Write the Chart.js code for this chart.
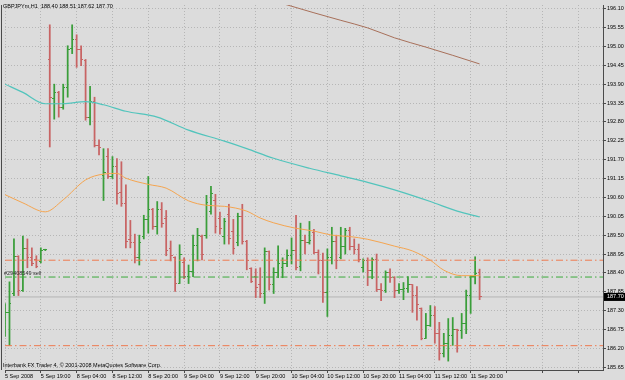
<!DOCTYPE html>
<html>
<head>
<meta charset="utf-8">
<script src="https://cdn.jsdelivr.net/npm/chart.js@4.4.1/dist/chart.umd.min.js"></script>
<style>
  html, body { margin: 0; padding: 0; background: #dcdcdc; }
  canvas { display: block; }
</style>
</head>
<body>
<canvas id="chart" width="625" height="380"></canvas>
<script>
// GBPJPYm H1, 5-11 Sep 2008
const symbol = 'GBPJPYm,H1';
const copyright = 'Interbank FX Trader 4, \u00a9 2001-2008 MetaQuotes Software Corp.';
const orderLabel = '#29408549 sell';

const timeLabels = ['5 Sep 2008', '5 Sep 19:00', '8 Sep 04:00', '8 Sep 12:00', '8 Sep 20:00',
  '9 Sep 04:00', '9 Sep 12:00', '9 Sep 20:00', '10 Sep 04:00', '10 Sep 12:00',
  '10 Sep 20:00', '11 Sep 04:00', '11 Sep 12:00', '11 Sep 20:00'];

const priceTicks = [185.65, 186.20, 186.75, 187.30, 187.85, 188.40, 188.95, 189.50, 190.05, 190.60,
  191.15, 191.70, 192.25, 192.80, 193.35, 193.90, 194.45, 195.00, 195.55, 196.10];

const opens = [186.70, 187.25, 187.80, 188.88, 187.90, 189.12, 188.85, 188.80, 188.72, 189.07,
  194.63, 193.47, 193.66, 193.23, 193.80, 194.95, 195.20, 194.90, 194.58, 192.94,
  193.39, 192.12, 191.25, 191.80, 191.21, 191.50, 190.75, 190.43, 189.36, 189.30,
  188.85, 189.45, 189.95, 190.25, 189.75, 190.25, 190.00, 189.10, 188.85, 188.10,
  188.70, 188.30, 188.45, 189.20, 189.45, 189.50, 190.20, 190.50, 190.00, 189.45,
  190.10, 189.60, 189.30, 190.05, 189.33, 188.53, 188.30, 188.05, 187.79, 189.02,
  188.05, 188.41, 188.55, 188.66, 188.90, 189.05, 188.60, 189.35, 189.30, 189.58,
  188.99, 188.77, 187.83, 188.85, 189.31, 188.85, 189.18, 189.65, 189.18, 189.09,
  188.55, 188.75, 188.48, 188.78, 187.93, 187.88, 188.40, 188.27, 187.88, 187.92,
  187.94, 188.05, 187.74, 187.36, 186.50, 186.86, 187.16, 186.63, 186.05, 186.34,
  186.58, 186.75, 186.72, 186.92, 187.74, 188.29, 188.40];
const highs = [187.51, 188.14, 189.39, 188.90, 189.47, 189.39, 189.13, 188.90, 189.13, 189.09,
  195.63, 193.90, 193.69, 193.90, 195.02, 195.63, 195.34, 195.02, 194.62, 193.84,
  193.52, 192.28, 192.02, 192.02, 191.79, 191.73, 191.64, 190.97, 189.93, 189.53,
  189.50, 190.08, 191.21, 190.28, 190.48, 190.45, 190.22, 189.33, 188.87, 189.22,
  188.84, 188.63, 189.50, 189.70, 189.50, 190.66, 190.92, 190.69, 190.17, 189.99,
  190.40, 189.96, 190.14, 190.40, 189.35, 188.55, 188.52, 188.55, 189.13, 189.04,
  188.55, 189.19, 188.84, 189.07, 189.42, 190.08, 189.85, 189.50, 189.90, 189.67,
  189.07, 188.98, 189.10, 189.73, 189.50, 189.73, 189.70, 189.73, 189.39, 189.24,
  188.81, 188.84, 188.84, 188.95, 188.09, 188.46, 188.52, 188.29, 188.09, 188.12,
  188.29, 188.06, 188.00, 187.38, 187.22, 187.45, 187.42, 186.96, 186.64, 187.07,
  187.10, 186.76, 187.22, 187.90, 188.32, 188.87, 188.51];
const lows = [186.55, 186.29, 187.74, 187.74, 187.86, 188.55, 188.61, 188.55, 188.69, 189.05,
  192.07, 192.88, 192.94, 193.17, 193.52, 194.79, 194.39, 194.44, 192.85, 192.71,
  192.07, 191.84, 190.51, 191.15, 191.15, 190.40, 190.34, 189.13, 189.13, 188.69,
  188.63, 189.39, 189.56, 189.67, 189.53, 189.73, 188.90, 188.75, 187.86, 188.09,
  188.23, 188.09, 188.29, 188.75, 188.78, 189.41, 190.11, 189.56, 189.53, 189.24,
  189.24, 188.95, 189.19, 189.24, 188.49, 188.12, 187.68, 187.68, 187.51, 187.90,
  187.80, 188.26, 188.26, 188.58, 188.66, 188.49, 188.46, 188.95, 189.24, 188.95,
  188.37, 187.54, 187.13, 188.66, 188.52, 188.81, 188.95, 189.07, 188.95, 188.72,
  188.43, 188.03, 188.23, 187.86, 187.59, 187.83, 188.12, 187.68, 187.80, 187.62,
  187.83, 187.25, 187.02, 186.45, 186.49, 186.84, 186.35, 185.86, 185.95, 185.83,
  186.29, 186.09, 186.49, 186.63, 187.22, 188.08, 187.62];
const closes = [187.25, 187.50, 188.88, 187.90, 189.12, 188.85, 188.66, 188.58, 189.05, 189.07,
  193.50, 193.66, 193.23, 193.80, 194.92, 195.20, 194.90, 194.63, 192.94, 193.39,
  192.12, 192.05, 191.32, 191.21, 191.50, 190.70, 190.43, 189.33, 189.30, 188.85,
  189.30, 189.95, 190.25, 189.75, 190.25, 189.85, 189.05, 188.90, 188.10, 188.95,
  188.30, 188.45, 189.20, 189.50, 188.95, 190.45, 190.70, 189.75, 189.70, 189.90,
  189.40, 189.10, 190.05, 189.33, 188.75, 188.15, 187.98, 187.79, 189.02, 188.05,
  188.41, 188.66, 188.66, 188.92, 189.05, 188.55, 189.35, 189.30, 189.35, 188.99,
  188.77, 187.83, 188.85, 189.31, 188.77, 189.18, 189.65, 189.18, 189.09, 188.78,
  188.75, 188.48, 188.80, 187.93, 187.88, 188.40, 188.27, 187.88, 187.93, 187.94,
  188.06, 187.74, 187.49, 186.50, 186.86, 187.16, 186.63, 186.05, 186.35, 186.58,
  186.75, 186.72, 186.92, 187.74, 188.29, 188.38, 187.70];

// moving averages: [bar, price]
const maBrown = [[60, 196.32], [63, 196.21], [69, 195.98], [75, 195.76], [81, 195.54],
  [87, 195.25], [94, 194.98], [100, 194.74], [106, 194.49]];
const maTeal = [[0, 193.90], [4, 193.66], [9, 193.33], [13, 193.33], [18, 193.39], [22, 193.30],
  [27, 193.11], [34, 192.94], [41, 192.56], [49, 192.24], [54, 192.02], [60, 191.74],
  [68, 191.45], [75, 191.23], [81, 191.04], [87, 190.82], [95, 190.48], [101, 190.20], [106, 190.03]];
const maOrange = [[0, 190.68], [4, 190.44], [9, 190.18], [13, 190.53], [18, 191.11], [22, 191.28],
  [25, 191.30], [27, 191.16], [32, 190.98], [36, 190.87], [41, 190.50], [45, 190.37], [49, 190.34],
  [54, 190.20], [57, 190.00], [60, 189.86], [65, 189.70], [69, 189.62], [73, 189.50], [77, 189.46],
  [81, 189.38], [87, 189.18], [91, 189.04], [95, 188.77], [98, 188.48], [102, 188.32], [106, 188.32]];

const upperLevel = 188.77;
const sellLevel = 188.28;
const lowerLevel = 186.28;

const xMax = 133.56;
const yMin = 185.571, yMax = 196.207;
const FONT = '"Liberation Sans", Arial, sans-serif';
const upColor = '#3a9e3a', downColor = '#c86464';
const gridColor = '#b6b6b6', axisColor = '#4a4a4a';

const n = closes.length;
const last = n - 1;
const isUp = closes.map((c, i) => c >= opens[i]);

function tickImage(color, side) {
  const c = document.createElement('canvas');
  c.width = 4; c.height = 1;
  const g = c.getContext('2d');
  g.fillStyle = color;
  if (side === 'open') g.fillRect(0, 0, 2, 1); else g.fillRect(2, 0, 2, 1);
  return c;
}
const openUp = tickImage(upColor, 'open'), openDown = tickImage(downColor, 'open');
const closeUp = tickImage(upColor, 'close'), closeDown = tickImage(downColor, 'close');

function level(v, color, dash) {
  return {
    type: 'line', data: [{x: 0, y: v}, {x: xMax, y: v}],
    borderColor: color, borderWidth: 1, borderDash: dash, pointRadius: 0, order: 0
  };
}
function ma(points, color, width) {
  return {
    type: 'line', data: points.map(p => ({x: p[0], y: p[1]})),
    borderColor: color, borderWidth: width, pointRadius: 0, cubicInterpolationMode: 'monotone', order: 0
  };
}

const overlay = {
  id: 'overlay',
  beforeDraw(chart) {
    const {ctx} = chart;
    ctx.save();
    ctx.fillStyle = '#dcdcdc';
    ctx.fillRect(0, 0, chart.width, chart.height);
    ctx.restore();
  },
  afterDraw(chart) {
    const {ctx, chartArea: a, scales: {y}} = chart;
    ctx.save();
    // left frame
    ctx.strokeStyle = axisColor;
    ctx.lineWidth = 1;
    ctx.beginPath();
    ctx.moveTo(1.5, a.top); ctx.lineTo(1.5, a.bottom);
    ctx.stroke();

    ctx.font = '5.5px ' + FONT;
    ctx.textBaseline = 'middle';
    ctx.fillStyle = '#000';
    const ohlc = [opens[last], highs[last], lows[last], closes[last]].map(v => v.toFixed(2)).join(' ');
    ctx.fillText(symbol + '  ' + ohlc, 3, 6);
    ctx.fillText(copyright, 3, 365);
    ctx.fillStyle = '#303030';
    ctx.fillText(orderLabel, 4, y.getPixelForValue(sellLevel) - 4);

    // current price box
    const py = y.getPixelForValue(closes[last]);
    ctx.fillStyle = '#000';
    ctx.fillRect(a.right + 1, py - 4, chart.width - a.right - 1, 8);
    ctx.fillStyle = '#fff';
    ctx.fillText(closes[last].toFixed(2), a.right + 4, py);
    ctx.restore();
  }
};

new Chart(document.getElementById('chart'), {
  type: 'bar',
  data: {
    datasets: [
      ma(maBrown, '#a8705a', 1),
      ma(maTeal, '#52c4bc', 1.2),
      ma(maOrange, '#f5a550', 1),
      level(upperLevel, '#ee7a50', [7, 3, 1.5, 3]),
      level(sellLevel, '#3aaa3a', [7, 3, 1.5, 3]),
      level(lowerLevel, '#ee7a50', [7, 3, 1.5, 3]),
      {
        type: 'scatter', order: 1,
        data: opens.map((v, i) => ({x: i, y: v})),
        pointStyle: isUp.map(u => u ? openUp : openDown), pointRadius: 2
      },
      {
        type: 'scatter', order: 1,
        data: closes.map((v, i) => ({x: i, y: v})),
        pointStyle: isUp.map(u => u ? closeUp : closeDown), pointRadius: 2
      },
      {
        type: 'bar', order: 2,
        data: highs.map((h, i) => ({x: i, y: [lows[i], h]})),
        backgroundColor: isUp.map(u => u ? upColor : downColor),
        borderWidth: 0, barThickness: 1.1, minBarLength: 1
      },
      {
        type: 'line', order: 3,
        data: [{x: 0, y: closes[last]}, {x: xMax, y: closes[last]}],
        borderColor: '#b4b4b4', borderWidth: 1, pointRadius: 0
      }
    ]
  },
  options: {
    responsive: false,
    animation: false,
    devicePixelRatio: 1,
    layout: {padding: {left: 2, top: 2, right: 0, bottom: 0}},
    plugins: {legend: {display: false}, tooltip: {enabled: false}},
    scales: {
      x: {
        type: 'linear', offset: false, min: 0, max: xMax,
        grid: {offset: false, color: gridColor, tickColor: axisColor, tickLength: 3},
        border: {color: axisColor, dash: [1, 2]},
        ticks: {
          autoSkip: false, maxRotation: 0, align: 'start', padding: 0,
          color: '#000', font: {family: FONT, size: 5.5},
          callback: v => timeLabels[v / 8] || ''
        },
        afterBuildTicks: s => {
          const t = [];
          for (let b = 0; b <= xMax; b += 8) t.push({value: b});
          s.ticks = t;
        },
        afterFit: s => { s.height = 10; s.paddingLeft = 0; s.paddingRight = 0; }
      },
      y: {
        type: 'linear', position: 'right', min: yMin, max: yMax,
        grid: {color: gridColor, tickColor: axisColor, tickLength: 3},
        border: {color: axisColor, dash: [1, 2]},
        ticks: {
          autoSkip: false, padding: 1, color: '#000', font: {family: FONT, size: 5.5},
          callback: v => v.toFixed(2)
        },
        afterBuildTicks: s => { s.ticks = priceTicks.map(v => ({value: v})); },
        afterFit: s => { s.width = 22; s.paddingTop = 0; s.paddingBottom = 0; }
      }
    }
  },
  plugins: [overlay]
});
</script>
</body>
</html>
